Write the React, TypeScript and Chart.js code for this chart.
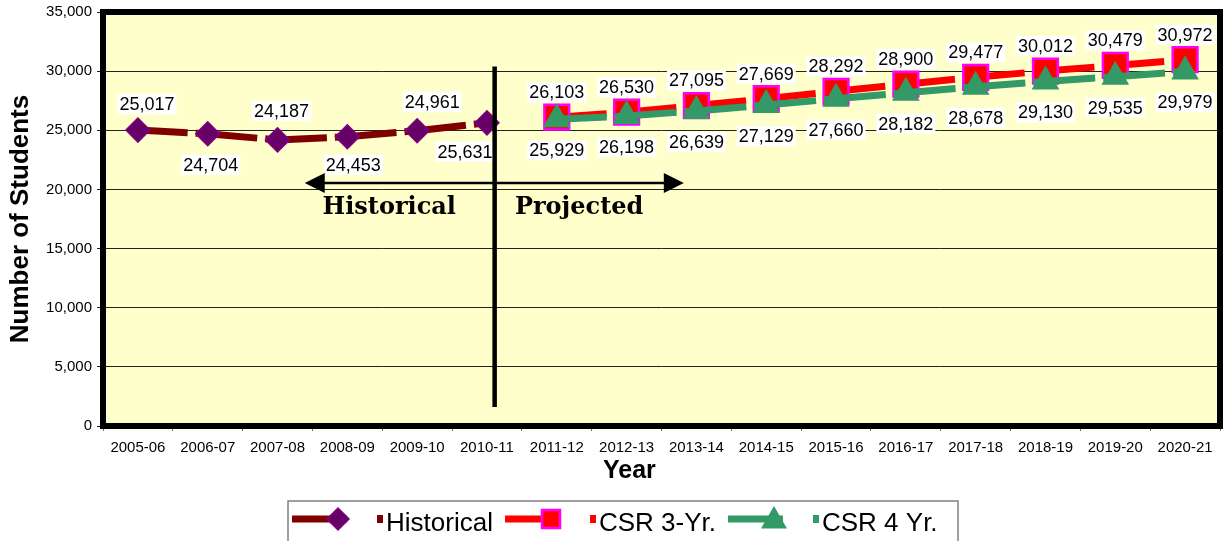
import React, { useEffect, useRef } from 'react';
import { Chart, registerables } from 'chart.js';

Chart.register(...registerables);

const years = ['2005-06', '2006-07', '2007-08', '2008-09', '2009-10', '2010-11', '2011-12', '2012-13', '2013-14', '2014-15', '2015-16', '2016-17', '2017-18', '2018-19', '2019-20', '2020-21'];
const historical = [25017, 24704, 24187, 24453, 24961, 25631, null, null, null, null, null, null, null, null, null, null];
const csr3 = [null, null, null, null, null, null, 26103, 26530, 27095, 27669, 28292, 28900, 29477, 30012, 30479, 30972];
const csr4 = [null, null, null, null, null, null, 25929, 26198, 26639, 27129, 27660, 28182, 28678, 29130, 29535, 29979];
const seriesNames = ['Historical', 'CSR 3-Yr.', 'CSR 4 Yr.'];
const yMin = 0;
const yMax = 35000;
const yStep = 5000;
const xTitle = 'Year';
const yTitle = 'Number of Students';
const periodTexts = ['Historical', 'Projected'];

const SANS = 'Arial, "Liberation Sans", sans-serif';
const SERIF = '"DejaVu Serif", "Liberation Serif", serif';
const fmt = (v: number) => v.toLocaleString('en-US');

function drawMarker(ctx: CanvasRenderingContext2D, kind: string, x: number, y: number, r: number, fill: string, stroke: string, bw: number) {
  ctx.save();
  ctx.beginPath();
  if (kind === 'diamond') {
    ctx.moveTo(x - r, y); ctx.lineTo(x, y - r); ctx.lineTo(x + r, y); ctx.lineTo(x, y + r); ctx.closePath();
  } else if (kind === 'square') {
    ctx.rect(x - r, y - r, 2 * r, 2 * r);
  } else {
    ctx.moveTo(x, y - r); ctx.lineTo(x + r * 0.866, y + r * 0.5); ctx.lineTo(x - r * 0.866, y + r * 0.5); ctx.closePath();
  }
  ctx.fillStyle = fill; ctx.fill();
  if (bw > 0) { ctx.lineWidth = bw; ctx.strokeStyle = stroke; ctx.stroke(); }
  ctx.restore();
}

const labelPlacement: Record<number, { dy: number[]; dx: number[] }> = {
  0: { dy: [-26, 31, -29, 28, -29, 29], dx: [9, 3, 4, 6, 15, -22] },
  1: { dy: [-25], dx: [0] },
  2: { dy: [31], dx: [0] },
};

const customPlugin = {
  id: 'customDecor',
  beforeDraw(chart: any) {
    const { ctx, chartArea: a } = chart;
    ctx.save();
    ctx.fillStyle = '#FFFFCC';
    ctx.fillRect(a.left, a.top, a.right - a.left, a.bottom - a.top);
    ctx.restore();
  },
  beforeDatasetsDraw(chart: any) {
    const { ctx, chartArea: a } = chart;
    ctx.save();
    ctx.strokeStyle = '#000';
    ctx.lineWidth = 6;
    ctx.strokeRect(a.left, a.top, a.right - a.left, a.bottom - a.top);
    ctx.restore();
  },
  afterDatasetsDraw(chart: any) {
    const { ctx } = chart;
    const xs = chart.scales.x;
    const ys = chart.scales.y;
    // data labels
    ctx.save();
    ctx.font = `18px ${SANS}`;
    ctx.textAlign = 'center';
    ctx.textBaseline = 'middle';
    chart.data.datasets.forEach((ds: any, di: number) => {
      const meta = chart.getDatasetMeta(di);
      const pl = labelPlacement[di];
      let k = 0;
      meta.data.forEach((el: any, i: number) => {
        const v = ds.data[i];
        if (v == null) return;
        const dy = pl.dy[k % pl.dy.length];
        const dx = pl.dx[k % pl.dx.length];
        k++;
        const t = fmt(v);
        const w = ctx.measureText(t).width + 4;
        const cx = el.x + dx;
        const cy = el.y + dy;
        ctx.fillStyle = '#FFFFFF';
        ctx.fillRect(cx - w / 2, cy - 10, w, 20);
        ctx.fillStyle = '#000';
        ctx.fillText(t, cx, cy + 1);
      });
    });
    ctx.restore();

    // divider
    const dX = xs.getPixelForValue(5.11);
    ctx.save();
    ctx.strokeStyle = '#000';
    ctx.lineWidth = 4.5;
    ctx.beginPath();
    ctx.moveTo(dX, ys.getPixelForValue(30400));
    ctx.lineTo(dX, ys.getPixelForValue(1600));
    ctx.stroke();

    // double arrow
    const ay = ys.getPixelForValue(20540);
    const ax1 = xs.getPixelForValue(2.39);
    const ax2 = xs.getPixelForValue(7.82);
    ctx.lineWidth = 2.5;
    ctx.beginPath();
    ctx.moveTo(ax1 + 10, ay);
    ctx.lineTo(ax2 - 10, ay);
    ctx.stroke();
    ctx.fillStyle = '#000';
    ctx.beginPath();
    ctx.moveTo(ax1, ay); ctx.lineTo(ax1 + 20, ay - 10); ctx.lineTo(ax1 + 20, ay + 10); ctx.closePath(); ctx.fill();
    ctx.beginPath();
    ctx.moveTo(ax2, ay); ctx.lineTo(ax2 - 20, ay - 10); ctx.lineTo(ax2 - 20, ay + 10); ctx.closePath(); ctx.fill();

    // period texts
    ctx.font = `bold 24px ${SERIF}`;
    ctx.textAlign = 'center';
    ctx.textBaseline = 'middle';
    const ty = ys.getPixelForValue(18450);
    ctx.fillText(periodTexts[0], xs.getPixelForValue(3.6), ty);
    ctx.fillText(periodTexts[1], xs.getPixelForValue(6.32), ty);
    ctx.restore();
  },
  afterDraw(chart: any) {
    const { ctx } = chart;
    // x axis title
    ctx.save();
    ctx.font = `bold 25px ${SANS}`;
    ctx.fillStyle = '#000';
    ctx.textAlign = 'center';
    ctx.textBaseline = 'middle';
    ctx.fillText(xTitle, chart.scales.x.getPixelForValue(7.04), 471);

    // legend
    const top = 501;
    ctx.strokeStyle = '#808080';
    ctx.lineWidth = 1.5;
    ctx.strokeRect(288, top, 670, 45);
    const cy = 519;
    const items = [
      { x: 292, line: '#800000', marker: 'diamond', mf: '#660066', ms: '#800080', mr: 11, mb: 1.5, sq: '#800000' },
      { x: 505, line: '#FF0000', marker: 'square', mf: '#FF0000', ms: '#FF00FF', mr: 9, mb: 2.5, sq: '#FF0000' },
      { x: 728, line: '#339966', marker: 'triangle', mf: '#339966', ms: '#339966', mr: 15, mb: 0, sq: '#339966' },
    ];
    ctx.font = `26px ${SANS}`;
    ctx.textAlign = 'left';
    ctx.textBaseline = 'alphabetic';
    items.forEach((it, i) => {
      ctx.strokeStyle = it.line;
      ctx.lineWidth = 7;
      ctx.beginPath();
      ctx.moveTo(it.x, cy); ctx.lineTo(it.x + 55, cy); ctx.stroke();
      drawMarker(ctx, it.marker, it.x + 46, cy + (it.marker === 'triangle' ? 2 : 0), it.mr, it.mf, it.ms, it.mb);
      ctx.fillStyle = it.sq;
      ctx.fillRect(it.x + 85, cy - 4, 6, 8);
      ctx.fillStyle = '#000';
      ctx.fillText(seriesNames[i], it.x + 94, 531);
    });
    ctx.restore();
  },
};

export default function App() {
  const ref = useRef<HTMLCanvasElement>(null);
  useEffect(() => {
    if (!ref.current) return;
    const chart = new Chart(ref.current, {
      type: 'line',
      data: {
        labels: years,
        datasets: [
          {
            label: seriesNames[0],
            data: historical,
            borderColor: '#800000',
            borderWidth: 7,
            borderDash: [61.8, 8],
            borderDashOffset: 12,
            pointStyle: 'rectRot',
            pointRadius: 12,
            pointBackgroundColor: '#660066',
            pointBorderColor: '#800080',
            pointBorderWidth: 1.5,
            order: 2,
          },
          {
            label: seriesNames[1],
            data: csr3,
            borderColor: '#FF0000',
            borderWidth: 7,
            borderDash: [62, 8],
            borderDashOffset: 12,
            pointStyle: 'rect',
            pointRadius: 17.5,
            pointBackgroundColor: '#FF0000',
            pointBorderColor: '#FF00FF',
            pointBorderWidth: 2.5,
            order: 1,
          },
          {
            label: seriesNames[2],
            data: csr4,
            borderColor: '#339966',
            borderWidth: 7,
            borderDash: [62, 8],
            borderDashOffset: 12,
            pointStyle: 'triangle',
            pointRadius: 16,
            pointBackgroundColor: '#339966',
            pointBorderColor: '#339966',
            pointBorderWidth: 0,
            order: 0,
          },
        ],
      },
      options: {
        animation: false,
        responsive: false,
        layout: { autoPadding: false, padding: { left: 0, top: 12, right: 5, bottom: 45 } },
        plugins: { legend: { display: false }, tooltip: { enabled: false } },
        scales: {
          x: {
            offset: true,
            grid: { display: true, drawOnChartArea: false, drawTicks: true, tickLength: 5, color: '#777', offset: true },
            border: { display: false },
            ticks: { color: '#000', font: { family: SANS, size: 15 }, padding: 8, maxRotation: 0, autoSkip: false },
            afterFit: (s: any) => { s.height = 70; s.paddingLeft = 0; s.paddingRight = 0; s.paddingTop = 0; s.paddingBottom = 0; },
          },
          y: {
            min: yMin,
            max: yMax,
            grid: { color: '#222', lineWidth: 1, tickLength: 6 },
            border: { display: false },
            ticks: { stepSize: yStep, color: '#000', font: { family: SANS, size: 15 }, padding: 5, callback: (v: any) => fmt(Number(v)) },
            title: { display: true, text: yTitle, color: '#000', font: { family: SANS, size: 26, weight: 'bold' }, padding: { top: 5, bottom: 0 } },
            afterFit: (s: any) => { s.width = 103; s.paddingLeft = 0; s.paddingRight = 0; s.paddingTop = 0; s.paddingBottom = 0; },
          },
        },
      },
      plugins: [customPlugin],
    } as any);
    return () => chart.destroy();
  }, []);
  return (
    <div style={{ position: 'absolute', left: 0, top: 0, width: 1225, height: 541, background: '#fff' }}>
      <canvas ref={ref} width={1225} height={541} style={{ display: 'block' }} />
    </div>
  );
}
